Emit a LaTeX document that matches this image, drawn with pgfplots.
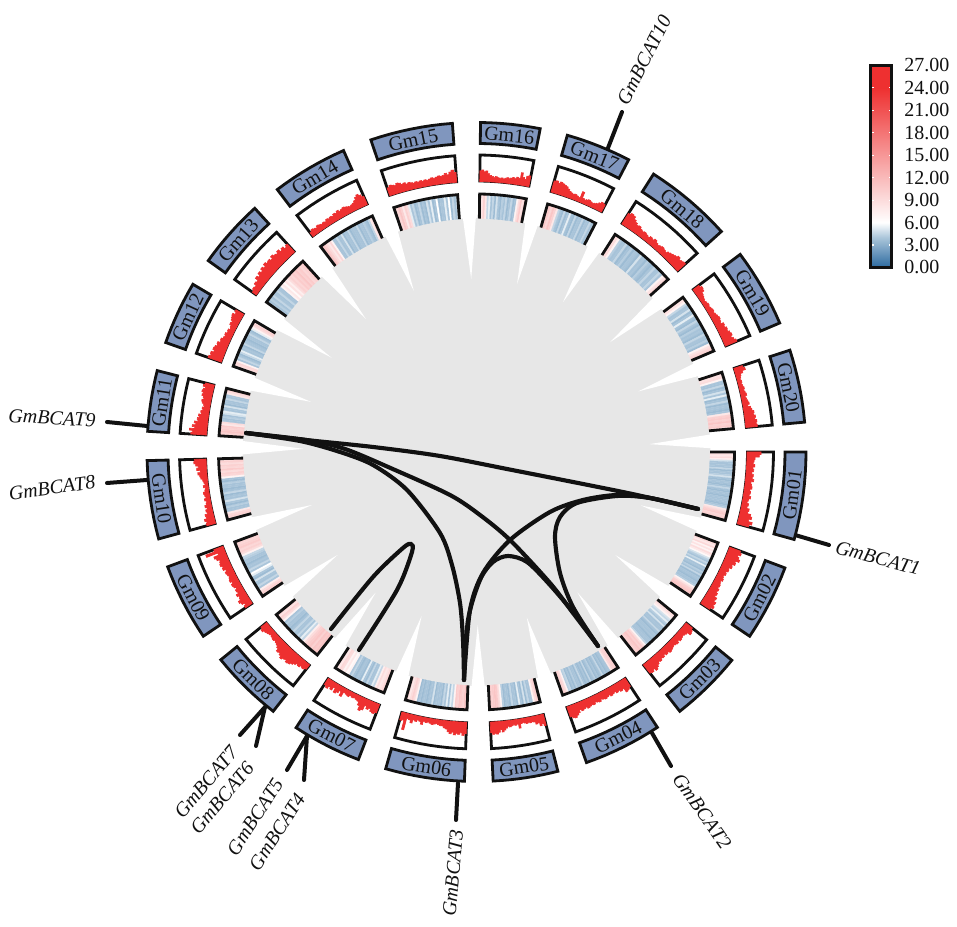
\documentclass[border=0pt]{standalone}
\usepackage{fontspec}
\setmainfont{Liberation Serif}
\usepackage{pgfplots}
\usepgfplotslibrary{patchplots}
\pgfplotsset{compat=1.18}

\definecolor{gmfill}{RGB}{128,150,190}
\definecolor{disk}{RGB}{231,231,231}
\definecolor{trackred}{RGB}{238,48,48}
\definecolor{ink}{RGB}{17,17,17}

\pgfplotsset{
  px/.style={x filter/.expression={x-476.5}, y filter/.expression={452-y}},
  link/.style={draw=ink, line width=3.1pt, line cap=round, smooth, px},
  gene/.style={draw=ink, line width=3pt, line cap=round, px},
  outline/.style={draw=ink, line width=2.1pt, line join=miter, data cs=polar},
}

% points along an arc: from, to, radius
\newcommand\arcpts[3]{%
  \pgfplotsforeachungrouped \k in {0,1,...,8}{%
    \pgfmathsetmacro\ang{#1+(#2-#1)*\k/8}%
    \edef\pts{\pts (\ang,#3)}}}

% closed ring box: style, from, to, inner, outer
\newcommand\ringbox[5]{%
  \def\pts{}\arcpts{#2}{#3}{#5}\arcpts{#3}{#2}{#4}%
  \edef\tmp{\noexpand\addplot[outline,#1] coordinates {\pts} -- cycle;}\tmp}

% heat ring: from, to, values
\newcommand\heat[3]{%
  \def\cnt{0}%
  \pgfplotsforeachungrouped \val in {#3}{\pgfmathtruncatemacro\cnt{\cnt+1}}%
  \def\idx{0}\def\pts{}%
  \pgfplotsforeachungrouped \val in {#3}{%
    \pgfmathsetmacro\angA{#1+(#2-#1)*\idx/\cnt}%
    \pgfmathsetmacro\angB{#1+(#2-#1)*(\idx+1)/\cnt}%
    \edef\pts{\pts (\angA,233.5) [\val] (\angB,233.5) [\val] (\angB,258) [\val] (\angA,258) [\val]}%
    \pgfmathtruncatemacro\idx{\idx+1}}%
  \edef\tmp{\noexpand\addplot[patch, patch type=rectangle, shader=faceted,
    faceted color=mapped color, line width=0.15pt, point meta=explicit, data cs=polar]
    coordinates {\pts};}\tmp
  \def\pts{}\edef\pts{(#1,233.5)}\arcpts{#1}{#2}{258}\edef\pts{\pts (#2,233.5)}%
  \edef\tmp{\noexpand\addplot[outline] coordinates {\pts};}\tmp}

% red track, filled up from the inner edge in small steps: from, to, heights
\newcommand\track[3]{%
  \ringbox{fill=white}{#1}{#2}{271}{297}%
  \def\cnt{0}%
  \pgfplotsforeachungrouped \val in {#3}{\pgfmathtruncatemacro\cnt{\cnt+1}}%
  \def\idx{0}\def\pts{}%
  \pgfplotsforeachungrouped \val in {#3}{%
    \pgfmathsetmacro\angA{#1+(#2-#1)*\idx/\cnt}%
    \pgfmathsetmacro\angB{#1+(#2-#1)*(\idx+1)/\cnt}%
    \pgfmathsetmacro\rad{271+0.85*\val}%
    \edef\pts{\pts (\angA,\rad) (\angB,\rad)}%
    \pgfmathtruncatemacro\idx{\idx+1}}%
  \arcpts{#2}{#1}{270.5}%
  \edef\tmp{\noexpand\addplot[fill=trackred, draw=trackred, line width=0.5pt, data cs=polar]
    coordinates {\pts} -- cycle;}\tmp}

% white wedge between two neighbouring sectors
\newcommand\gap[2]{%
  \pgfmathsetmacro\ang{(#1+#2)/2}%
  \pgfmathsetmacro\angA{\ang-0.33*(#2-#1)}%
  \pgfmathsetmacro\angB{\ang+0.33*(#2-#1)}%
  \edef\tmp{\noexpand\addplot[fill=white, draw=none, data cs=polar]
    coordinates {(\angA,236) (\ang,173) (\angB,236)} -- cycle;}\tmp}

% chromosome box with its label
\newcommand\gm[3]{%
  \ringbox{fill=gmfill}{#2}{#3}{308.5}{329.5}%
  \pgfmathsetmacro\ang{(#2+#3)/2}%
  \pgfmathsetmacro\lx{318.5*cos(\ang)}%
  \pgfmathsetmacro\ly{318.5*sin(\ang)}%
  \pgfmathsetmacro\rot{\ang>0 ? \ang-90 : \ang+90}%
  \edef\tmp{\noexpand\node[rotate=\rot, inner sep=0pt, text=ink,
    font=\noexpand\fontsize{15}{15}\noexpand\selectfont]
    at (axis cs:\lx,\ly) {#1};}\tmp}

% gene label by picture position: x, y, rotation, text
\newcommand\genelabel[4]{%
  \pgfmathsetmacro\lx{#1-476.5}%
  \pgfmathsetmacro\ly{452-#2}%
  \edef\tmp{\noexpand\node[rotate=#3, inner sep=0pt, text=ink,
    font=\noexpand\fontsize{15}{15}\noexpand\selectfont\noexpand\itshape]
    at (axis cs:\lx,\ly) {#4};}\tmp}

\begin{document}
\begin{tikzpicture}
\begin{axis}[
    name=main,
    x=0.75pt, y=0.75pt,
    xmin=-476.5, xmax=480.5,
    ymin=-475, ymax=452,
    hide axis,
    clip=false,
    point meta min=0, point meta max=27,
    colormap={bcat}{rgb255(0)=(44,107,160); rgb255(4)=(170,197,218); rgb255(6)=(255,255,255);
                    rgb255(24)=(238,48,48); rgb255(27)=(238,48,48)},
    colorbar,
    colorbar style={
        at={(parent axis.north west)}, anchor=north west,
        xshift=644.6pt, yshift=-49.1pt,
        width=15.75pt, height=151.5pt,
        ytick={0,3,...,27},
        yticklabel pos=right,
        line width=2.1pt,
        axis line style={draw=ink, line width=2.1pt},
        tick style={draw=white, line width=0.8pt},
        major tick length=2pt,
        tick align=inside,
        yticklabel style={
            /pgf/number format/fixed,
            /pgf/number format/fixed zerofill,
            /pgf/number format/precision=2,
            /pgf/number format/assume math mode=true,
            font=\fontsize{15}{15}\selectfont, text=ink, xshift=5pt},
    },
]
% central disk and the wedges cut into it
\def\pts{}\pgfplotsforeachungrouped \k in {0,5,...,355}{\edef\pts{\pts (\k,234)}}
\edef\tmp{\noexpand\addplot[fill=disk, draw=none, data cs=polar] coordinates {\pts} -- cycle;}\tmp
\gap{0}{5.2}\gap{18}{23.05}\gap{36.85}{42}\gap{57.5}{62.5}\gap{74}{78.85}
\gap{89.3}{94.2}\gap{108.7}{113.8}\gap{127.2}{132.3}\gap{144.5}{149.4}\gap{160.6}{165.7}
\gap{176.4}{181.5}\gap{195.3}{200.4}\gap{214}{219.1}\gap{231.9}{236.8}\gap{249}{254}
\gap{267.9}{272.9}\gap{284.3}{289.5}\gap{303.3}{308.1}\gap{320.8}{326}\gap{339.4}{344.6}

% links
\addplot[link] coordinates {(246,433)(306,440)(373,447)(440,456)(512,470)(583,484)(637,495)(698,509)};
\addplot[link] coordinates {(246,433)(306,440)(345,449)(395,470)(450,495)(480,515)(510,540)(550,583)(573,613)(598,646)};
\addplot[link] coordinates {(246,433)(300,441)(340,452)(373,465)(407,490)(440,533)(452,565)(460,603)(463,640)(464,680)};
\addplot[link] coordinates {(698,509)(650,498)(617,495)(583,500)(550,512)(510,540)(483,573)(470,610)(464,680)};
\addplot[link] coordinates {(698,509)(650,498)(617,496)(577,503)(560,517)(555,537)(560,573)(573,607)(598,646)};
\addplot[link] coordinates {(464,680)(468,620)(480,580)(493,562)(508,556)(527,562)(550,585)(577,617)(598,646)};
\addplot[link] coordinates {(331,629)(373,577)(403,548)(411,544)(412,552)(397,590)(359,650)};

% gene leader lines
\addplot[gene] coordinates {(608,148)(622,112)};
\addplot[gene] coordinates {(795,535)(829,545)};
\addplot[gene] coordinates {(652,733)(671,766)};
\addplot[gene] coordinates {(458,783)(456,820)};
\addplot[gene] coordinates {(265,707)(240,735)};
\addplot[gene] coordinates {(265,707)(256,746)};
\addplot[gene] coordinates {(307,736)(287,770)};
\addplot[gene] coordinates {(307,736)(304,780)};
\addplot[gene] coordinates {(147,480)(107,483)};
\addplot[gene] coordinates {(147,426)(107,422)};

% heat ring
\heat{0}{-15.4}{8,8.5,8,9,7.5,5,4,3.9,4,3.9,4.6,3.6,4,3.9,4.3,5,3.9,3.6,4,3.9,3.6,4,4.6,3.9,3.6,4,3.9,3.6,4,3.9,4,3.9,3.6,4,4.3,8,9,10,10.5,9.5,10,9.5}
\heat{-20.6}{-34}{10,9,8,9.5,7,8.5,7,9,8,6.5,5,4.3,3.9,4.6,4,5.4,3.9,4,3.6,4.3,3.9,4.6,3.6,4,3.9,3.6,4,3.9,4.3,7,8.5,10,10.5,11,10}
\heat{-39.2}{-51.9}{8,9,8,7,5,4.6,5.4,4.3,4,5,3.9,4,3.9,4.6,3.9,3.6,4,3.9,4,3.6,3.9,4,3.9,4.6,7,9,10.5,10,11,10.5,10,9.5}
\heat{-56.7}{-70.5}{9,10,10,9.5,8,4,3.9,3.6,4,3.6,4.6,3.9,3.6,4,3.6,4.3,3.9,3.6,4.6,3.6,4,3.6,3.9,4.6,3.6,4,3.9,4.3,3.6,4,3.6,4.6,4.3,7,9,10,9}
\heat{-75.7}{-87.1}{9,10,9,7,4,3.9,4.6,3.6,5,3.6,4,5.4,3.6,4,3.9,4.6,3.6,3.9,4,3.6,4.3,7,9,10.5,11,10.5,10,11}
\heat{-92.1}{-106}{10.5,11,10,10.5,11,10,10.5,7,4.6,5.4,3.9,5.4,4,4.6,3.6,4,3.9,4,3.6,5,3.9,4,3.6,3.9,4,3.6,4,3.6,7,9,10,9,8,10}
\heat{-111}{-123.2}{9,9.5,8.5,8,9,7.5,4.6,5.4,4,3.9,4.6,3.6,4,5.4,3.6,3.9,4,3.6,3.9,4.6,4,7,6.5,8,7,9,9.5,8,8.5}
\heat{-128.1}{-140.9}{10,11,10.5,11,10,11,10.5,10,9,7.5,4.6,5.4,4,4.6,3.9,4,4.6,3.9,3.6,4,3.9,4.3,3.9,7,9,10,8.5,9.5}
\heat{-146}{-159.6}{8.5,10,9,7.5,4,4.6,3.9,4,5,3.6,4,5.4,6,4,4.6,3.9,4,3.6,4,3.9,4.3,4.6,7,9,10,9.5,10.5,10,9.5,10}
\heat{-164.7}{-178.5}{8.5,10,9.5,8,4,3.9,4.3,3.6,4,5,3.9,4,3.6,4.6,3.9,3.6,4,3.9,4.3,3.6,3.9,7,9.5,10,9,10.5,9.5,10,9,10,9.5}
\heat{176.4}{165.7}{10.5,10,11,10.5,10,10.5,8,9,4,3.9,4.3,3.9,5,5.4,3.9,4,5,3.6,4,3.9,4.6,3.9,4,8,9,10}
\heat{160.6}{149.4}{8,9,9.5,7,3.9,4.6,4,3.6,4.6,5.4,3.9,4,3.6,4.6,4,3.9,3.6,4,3.9,4.6,4,3.6,5.4,7,9,10,8.5}
\heat{144.5}{132.3}{4,3.9,4.3,3.9,4.6,4,3.9,4.6,4,3.9,7,8,6.5,8.5,7.5,9,10,9.5,10.5,10,11,10,10.5,9.5,10,10.5}
\heat{127.2}{113.8}{9.5,11,10,9,8,9.5,7,4,3.9,4.6,3.9,4,5,3.6,4,3.9,4.6,3.6,3.9,4,3.9,4.6,3.6,4,3.9,4.3,3.9,3.6,4.6,8,9}
\heat{108.7}{94.2}{10,9.5,11,10,8,10,9,5.4,4,4.6,3.6,3.9,4.6,3.6,4,3.6,5,4,5.4,3.6,4,6,3.6,4,3.9,5.4,4,6,3.6,4.6,3.9,4.6}
\heat{89.3}{78.85}{9,8.5,10,8,4.6,5.4,3.9,4.6,3.6,5,4,3.6,4.3,3.9,4.6,3.6,4,4.6,3.6,3.9,7,9,10.5,8.5,10}
\heat{74}{62.5}{10,10.5,9.5,11,10,8,4.6,4,3.6,4.6,3.6,4,5.4,3.9,3.6,4.6,3.6,4,3.9,4.6,3.6,4,3.9,4.6,3.9,4}
\heat{57.5}{42}{8.5,9,7,4.3,3.9,4,4.6,3.6,3.9,4.3,3.6,4,3.9,3.6,5,3.9,4,3.6,4.3,3.9,3.6,4,4.6,3.9,4,4.6,3.9,7,8.5,9.5}
\heat{36.85}{23.05}{8,8.5,7,4.6,3.9,4,5,3.6,4,5.4,3.9,3.6,4.6,4,3.6,4.3,3.9,4,3.6,4.6,4,3.9,4.3,3.6,7,8.5,9.5,10}
\heat{18}{5.2}{9,8.5,9,7,4,3.9,4.6,3.6,3.9,5,4,5.4,3.6,3.9,4.6,3.6,4,3.9,3.6,4,8,10,10.5,10,11,10,10.5,9.5}

% red tracks
\track{0}{-15.4}{16,14,9,8,7,9,7,8,6,8,7,9,6,7,8,6,7,6,8,6,5,7,6,9,8,12,14,11,16,13}
\track{-20.6}{-34}{13,15,12,14,16,12,13,10,11,8,9,7,8,6,7,8,6,7,8,7,9,8,10,9,12,11,14,13,15,12}
\track{-39.2}{-51.9}{9,11,12,8,7,6,7,8,6,8,7,6,7,8,9,7,8,6,8,7,9,8,10,12,14,11,13,12}
\track{-56.7}{-70.5}{11,13,14,9,10,8,9,7,8,9,7,8,9,8,7,9,8,7,9,8,9,10,8,9,10,8,11,13,15,14,12}
\track{-75.7}{-87.1}{13,10,12,8,9,6,5,6,5,6,5,4,5,10,5,6,5,6,7,6,8,10,12,9,12,14,13,14,12}
\track{-92.1}{-106}{13,15,12,14,13,15,12,14,12,9,8,6,6,5,4,5,6,5,4,5,4,8,5,4,6,5,9,6,5,19,8,9}
\track{-111}{-123.2}{10,12,11,8,10,7,13,15,10,6,5,4,5,4,6,5,4,10,5,8,10,5,9,7,10,8}
\track{-128.1}{-140.9}{6,8,7,9,8,10,12,14,15,13,14,16,14,12,13,10,8,7,6,7,6,5,6,7,8,10,8}
\track{-146}{-159.6}{9,7,10,12,9,8,10,7,8,6,8,9,7,9,8,7,8,9,7,10,9,11,10,9,12,14,8,22,11}
\track{-164.7}{-178.5}{10,9,11,8,9,6,7,5,7,5,4,6,4,5,6,4,3,5,3,4,5,7,8,10,7,11,9,12,14,13}
\track{176.4}{165.7}{18,16,20,14,17,13,15,11,12,10,11,8,9,7,8,6,7,9,10,8,9,11,10,12,11,9,12,10}
\track{160.6}{149.4}{16,14,15,12,14,13,11,12,9,10,8,7,8,6,7,5,6,8,7,9,10,11,8,10}
\track{144.5}{132.3}{5,7,6,9,8,12,10,13,11,14,12,15,13,14,12,15,13,12,14,11,13,10,12}
\track{127.2}{113.8}{5,7,6,5,7,6,5,6,5,7,6,7,6,8,7,9,7,8,9,8,7,6,7,8,10,13,15,13,10}
\track{108.7}{94.2}{9,11,10,9,11,10,8,9,7,8,7,6,7,6,7,6,7,6,7,8,7,8,9,8,9,11,9,12,14,11}
\track{89.3}{78.85}{12,13,11,12,9,7,6,5,6,5,4,5,4,5,6,5,6,7,6,8,7,14,9,7,11,12}
\track{74}{62.5}{13,14,12,14,13,12,11,9,7,6,5,6,5,4,12,5,4,5,6,5,4,5,6,8,10,9}
\track{57.5}{42}{14,16,15,12,10,8,9,7,6,7,6,5,7,6,8,6,5,6,7,6,5,7,8,9,10,12,10,11,12}
\track{36.85}{23.05}{8,10,9,6,5,4,3,4,5,4,5,6,5,6,7,8,7,6,9,8,10,9,11,12,10,12,14}
\track{18}{5.2}{10,12,8,5,4,3,4,3,4,5,4,5,6,4,5,6,7,5,8,9,11,10,12,11,13,12,13}

% chromosomes
\gm{Gm01}{0}{-15.4}\gm{Gm02}{-20.6}{-34}\gm{Gm03}{-39.2}{-51.9}\gm{Gm04}{-56.7}{-70.5}
\gm{Gm05}{-75.7}{-87.1}\gm{Gm06}{-92.1}{-106}\gm{Gm07}{-111}{-123.2}\gm{Gm08}{-128.1}{-140.9}
\gm{Gm09}{-146}{-159.6}\gm{Gm10}{-164.7}{-178.5}\gm{Gm11}{176.4}{165.7}\gm{Gm12}{160.6}{149.4}
\gm{Gm13}{144.5}{132.3}\gm{Gm14}{127.2}{113.8}\gm{Gm15}{108.7}{94.2}\gm{Gm16}{89.3}{78.85}
\gm{Gm17}{74}{62.5}\gm{Gm18}{57.5}{42}\gm{Gm19}{36.85}{23.05}\gm{Gm20}{18}{5.2}

% gene names
\genelabel{644}{60}{63}{GmBCAT10}
\genelabel{878}{558}{-15}{GmBCAT1}
\genelabel{702}{811}{-55}{GmBCAT2}
\genelabel{453}{873}{85}{GmBCAT3}
\genelabel{277}{832}{57}{GmBCAT4}
\genelabel{255}{817}{57}{GmBCAT5}
\genelabel{222}{798}{50}{GmBCAT6}
\genelabel{206}{782}{50}{GmBCAT7}
\genelabel{52}{488}{8}{GmBCAT8}
\genelabel{52}{418}{-3}{GmBCAT9}
\end{axis}
\pgfresetboundingbox
\path (main.south west) rectangle (main.north east);
\end{tikzpicture}
\end{document}
